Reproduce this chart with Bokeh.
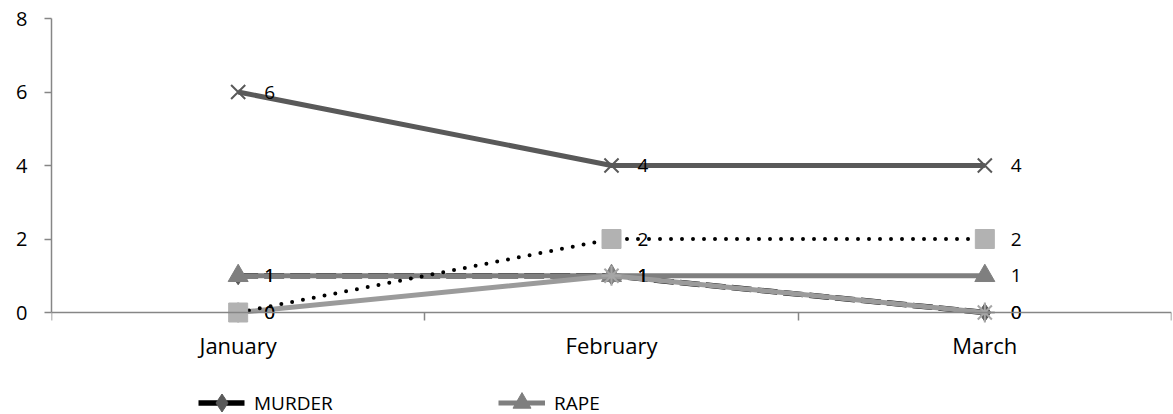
import numpy as np
from bokeh.plotting import figure
from bokeh.models import Range1d, FixedTicker, Legend, LegendItem, ColumnDataSource
from bokeh.core.properties import value
from bokeh.embed import file_html
from bokeh.resources import INLINE

# ---- data ----
months = ["January", "February", "March"]
murder = [1, 1, 0]
rape = [1, 1, 1]
series_c = [0, 2, 2]   # dotted black line, light grey squares
series_d = [0, 1, 0]   # light grey line, asterisks
series_e = [6, 4, 4]   # dark grey line, crosses
y_ticks = [0, 2, 4, 6, 8]

FONT = "Open Sans"
FS = "19px"
AXIS_COL = "#868686"

# layout: value axis 0..8 spans 294 px; the frame continues below the 0 line
# to hold the category labels and the legend
FRAME_W, FRAME_H, AXIS_PX = 1120, 407, 294
y_max = max(y_ticks)
y_min = -(FRAME_H - AXIS_PX) * y_max / AXIS_PX

xc = np.arange(len(months)) + 0.5

p = figure(frame_width=FRAME_W, frame_height=FRAME_H, output_backend="svg",
           toolbar_location=None,
           x_range=Range1d(0, len(months)), y_range=Range1d(y_min, y_max),
           min_border_left=51, min_border_right=1, min_border_top=18,
           min_border_bottom=0)
p.outline_line_color = None
p.grid.visible = False

# x axis drawn on the 0 line (labels are drawn as text below)
p.xaxis.fixed_location = min(y_ticks)
p.xaxis.ticker = FixedTicker(ticks=list(xc), minor_ticks=list(range(len(months) + 1)))
p.xaxis.major_label_overrides = {float(v): "" for v in xc}
p.xaxis.major_label_text_font_size = "0px"
p.xaxis.major_label_standoff = 0
p.xaxis.major_tick_line_color = None
p.xaxis.major_tick_out = 0
p.xaxis.major_tick_in = 0
p.xaxis.minor_tick_out = 8
p.xaxis.minor_tick_in = 0
p.xaxis.minor_tick_line_color = AXIS_COL
p.xaxis.minor_tick_line_width = 1.5
p.xaxis.axis_line_color = AXIS_COL
p.xaxis.axis_line_width = 1.5

# y axis
p.yaxis.bounds = (min(y_ticks), y_max)
p.yaxis.ticker = FixedTicker(ticks=y_ticks)
p.yaxis.major_tick_out = 7
p.yaxis.major_tick_in = 0
p.yaxis.minor_tick_line_color = None
p.yaxis.major_tick_line_color = AXIS_COL
p.yaxis.major_tick_line_width = 1.5
p.yaxis.axis_line_color = AXIS_COL
p.yaxis.axis_line_width = 1.5
p.yaxis.major_label_standoff = 17
p.yaxis.major_label_text_font = FONT
p.yaxis.major_label_text_font_size = "20px"
p.yaxis.major_label_text_color = "black"

# category labels under the 0 line
cat_src = ColumnDataSource(dict(x=xc, y=[min(y_ticks)] * len(months), t=months))
p.text("x", "y", text="t", source=cat_src, y_offset=32, text_align="center",
       text_baseline="middle", text_font=value(FONT), text_font_size="22px",
       text_color="black")

def src(vals):
    return ColumnDataSource(dict(x=xc, y=vals, t=[str(v) for v in vals]))

s_m, s_r, s_c, s_d, s_e = src(murder), src(rape), src(series_c), src(series_d), src(series_e)

# MURDER
m_line = p.line("x", "y", source=s_m, line_color="black", line_width=5.5,
                line_dash="20 6")
m_pts = p.scatter("x", "y", source=s_m, marker="diamond", size=18,
                  fill_color="#595959", line_color="#595959")
# RAPE
r_line = p.line("x", "y", source=s_r, line_color="#7f7f7f", line_width=5)
r_pts = p.scatter("x", "y", source=s_r, marker="triangle", size=20,
                  fill_color="#7f7f7f", line_color="#7f7f7f")
# series d (light grey)
p.line("x", "y", source=s_d, line_color="#9b9b9b", line_width=5)
p.scatter("x", "y", source=s_d, marker="asterisk", size=20,
          line_color="#a6a6a6", line_width=2)
# series c (dotted)
p.line("x", "y", source=s_c, line_color="black", line_width=4, line_dash="0 11",
       line_cap="round")
p.scatter("x", "y", source=s_c, marker="square", size=19,
          fill_color="#b2b2b2", line_color="#b2b2b2")
# series e (dark grey)
p.line("x", "y", source=s_e, line_color="#595959", line_width=5)
p.scatter("x", "y", source=s_e, marker="x", size=20,
          line_color="#595959", line_width=2)

# data labels
for s in (s_m, s_r, s_d, s_c, s_e):
    p.text("x", "y", text="t", source=s, x_offset=26, text_align="left",
           text_baseline="middle", text_font=value(FONT), text_font_size=FS,
           text_color="black")

legend = Legend(items=[LegendItem(label="MURDER", renderers=[m_line, m_pts]),
                       LegendItem(label="RAPE", renderers=[r_line, r_pts])],
                orientation="horizontal", location=(147, 0),
                glyph_width=47, glyph_height=45, label_standoff=9,
                label_width=244, spacing=0, padding=0, margin=0,
                border_line_color=None, background_fill_alpha=0,
                label_text_font=FONT, label_text_font_size=FS,
                label_text_color="black")
p.add_layout(legend)

open("out.html", "w").write(file_html(p, INLINE))
